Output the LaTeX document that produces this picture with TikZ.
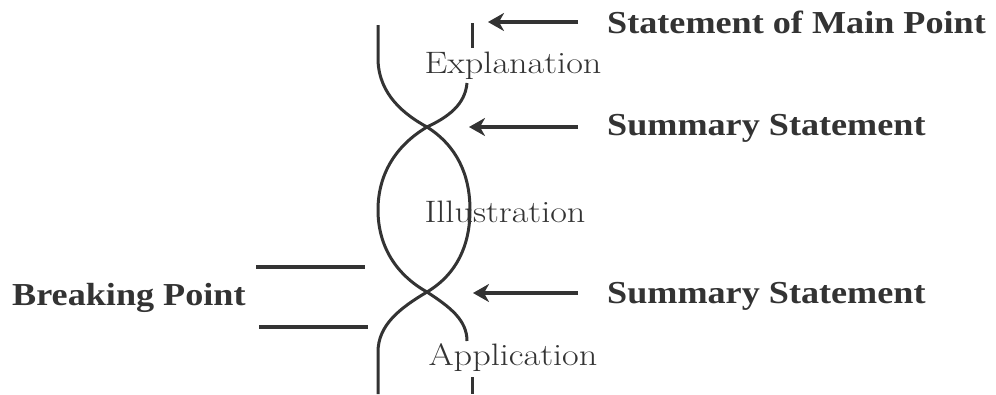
\documentclass[tikz,border=0pt]{standalone}
\usepackage{graphicx}
\usepackage{fontspec}
\newfontfamily\labfont{Liberation Serif}
\usetikzlibrary{arrows.meta}
\definecolor{ink}{HTML}{333333}
\newcommand\widebold[1]{\scalebox{1.13}[1]{#1}}
\newcommand\widepart[1]{\scalebox{1.17}[1]{#1}}
\tikzset{
  strand/.style={draw=ink, line width=3pt},
  pointer/.style={draw=ink, line width=4pt, -{Stealth[length=16pt,width=18pt,inset=5pt]}},
  boldlab/.style={anchor=west, inner sep=0pt, text=ink, font=\labfont\bfseries\fontsize{32}{32}\selectfont},
  partlab/.style={inner sep=0pt, text=ink, font=\fontsize{31}{31}\selectfont},
}
\begin{document}
\begin{tikzpicture}[x=1pt,y=-1pt]
\useasboundingbox (0,0) rectangle (996,394);
% part labels
\node[partlab] (expl) at (513,66) {\widepart{Explanation}};
\node[partlab] (illu) at (505,212) {\widepart{Illustration}};
\node[partlab] (appl) at (513,358) {\widepart{Application}};
% crossings
\coordinate (c1) at (427,127);
\coordinate (c2) at (427,292);
% left strand from top
\draw[strand] (378,25) -- (378,60) .. controls (379,95) and (405,115) .. (c1)
  .. controls (395,146) and (378,175) .. (378,210)
  .. controls (378,245) and (395,274) .. (c2)
  .. controls (450,307) and (467,320) .. (467,341);
% right strand
\draw[strand] (472,23) -- (472,48);
\draw[strand] (467,83) .. controls (465,105) and (448,117) .. (c1)
  .. controls (457,146) and (470,175) .. (470,210)
  .. controls (470,245) and (457,274) .. (c2)
  .. controls (400,308) and (378,325) .. (378,352) -- (378,394);
\draw[strand] (472,377) -- (472,394);
% labels
\node[boldlab] (smp) at (607,22) {\widebold{Statement of Main Point}};
\node[boldlab] (ss1) at (607,128) {\widebold{Summary Statement}};
\node[boldlab] (ss2) at (607,296) {\widebold{Summary Statement}};
\node[boldlab] (bp) at (12,298) {\widebold{Breaking Point}};
% arrows
\coordinate (a0) at (578,22);
\coordinate (h0) at (488,22);
\coordinate (a1) at (578,127);
\coordinate (h1) at (469,127);
\coordinate (a2) at (578,293);
\coordinate (h2) at (473,293);
\draw[pointer] (a0) -- (h0);
\draw[pointer] (a1) -- (h1);
\draw[pointer] (a2) -- (h2);
% breaking lines
\coordinate (b1l) at (256,267);
\coordinate (b1r) at (365,267);
\coordinate (b2l) at (259,327);
\coordinate (b2r) at (368,327);
\draw[strand, line width=3.5pt] (b1l) -- (b1r);
\draw[strand, line width=3.5pt] (b2l) -- (b2r);
\end{tikzpicture}
\end{document}
